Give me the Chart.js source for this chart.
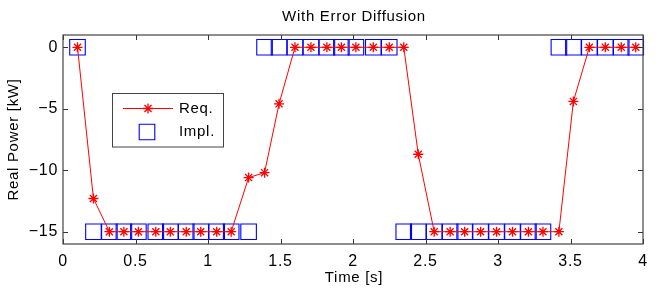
<!DOCTYPE html>
<html>
<head>
<meta charset="utf-8">
<script src="https://cdn.jsdelivr.net/npm/chart.js@4"></script>
<style>
  html, body { margin: 0; padding: 0; background: #fff; }
  canvas { display: block; }
</style>
</head>
<body>
<canvas id="chart" width="664" height="288"></canvas>
<script>
// sample times [s]
const time = [0.10, 0.21, 0.32, 0.42, 0.52, 0.64, 0.74, 0.85, 0.95, 1.06,
  1.16, 1.28, 1.39, 1.49, 1.60, 1.71, 1.82, 1.92, 2.02, 2.14,
  2.25, 2.35, 2.45, 2.56, 2.67, 2.77, 2.88, 2.99, 3.10, 3.21,
  3.31, 3.42, 3.52, 3.63, 3.74, 3.85, 3.95];

// requested power [kW]
const req = [0, -12.3, -15, -15, -15, -15, -15, -15, -15, -15,
  -15, -10.6, -10.2, -4.6, 0, 0, 0, 0, 0, 0,
  0, 0, -8.7, -15, -15, -15, -15, -15, -15, -15,
  -15, -15, -4.4, 0, 0, 0, 0];

// implemented power [kW]
const impl = [0, -15, -15, -15, -15, -15, -15, -15, -15, -15,
  -15, -15, 0, 0, 0, 0, 0, 0, 0, 0,
  0, -15, -15, -15, -15, -15, -15, -15, -15, -15,
  -15, 0, 0, 0, 0, 0, 0];

const xTicks = [0, 0.5, 1, 1.5, 2, 2.5, 3, 3.5, 4];
const yTicks = [-15, -10, -5, 0];

const FONT = "'Liberation Sans', Arial, Helvetica, sans-serif";
const SPACING = "0.7px";

// letter spacing so Liberation looks like the wider MATLAB Helvetica
const spacing = {
  id: "spacing",
  beforeDraw(chart) { chart.ctx.letterSpacing = SPACING; }
};

// box, inward ticks, titles and legend, MATLAB style
const decor = {
  id: "decor",
  afterDraw(chart) {
    const ctx = chart.ctx;
    const a = chart.chartArea;
    const xs = chart.scales.x, ys = chart.scales.y;
    ctx.save();
    ctx.strokeStyle = "#333";
    ctx.lineWidth = 1;
    ctx.beginPath();
    xTicks.forEach(v => {
      const px = Math.round(xs.getPixelForValue(v)) + 0.5;
      ctx.moveTo(px, a.bottom); ctx.lineTo(px, a.bottom - 5);
      ctx.moveTo(px, a.top); ctx.lineTo(px, a.top + 5);
    });
    yTicks.forEach(v => {
      const py = Math.round(ys.getPixelForValue(v)) + 0.5;
      ctx.moveTo(a.left, py); ctx.lineTo(a.left + 5, py);
      ctx.moveTo(a.right, py); ctx.lineTo(a.right - 5, py);
    });
    ctx.stroke();
    ctx.strokeStyle = "#444";
    ctx.lineWidth = 1.2;
    ctx.strokeRect(a.left, a.top, a.right - a.left, a.bottom - a.top);

    // texts
    ctx.fillStyle = "#000";
    ctx.letterSpacing = SPACING;
    ctx.textAlign = "center";
    ctx.textBaseline = "middle";
    ctx.font = "15px " + FONT;
    ctx.fillText("With Error Diffusion", (a.left + a.right) / 2 + 1, 17);
    ctx.fillText("Time [s]", (a.left + a.right) / 2 + 1, 278);
    ctx.save();
    ctx.translate(14, (a.top + a.bottom) / 2);
    ctx.rotate(-Math.PI / 2);
    ctx.fillText("Real Power [kW]", 0, 0);
    ctx.restore();

    // legend
    const lx = 112.5, ly = 93.5, lw = 111, lh = 53.5;
    ctx.fillStyle = "#fff";
    ctx.fillRect(lx, ly, lw, lh);
    ctx.strokeStyle = "#444";
    ctx.lineWidth = 1;
    ctx.strokeRect(lx, ly, lw, lh);
    const d0 = chart.data.datasets[0], d1 = chart.data.datasets[1];
    ctx.strokeStyle = d0.borderColor;
    ctx.beginPath();
    ctx.moveTo(123, 108.5); ctx.lineTo(173, 108.5);
    ctx.stroke();
    ctx.lineWidth = d0.pointBorderWidth;
    Chart.helpers.drawPoint(ctx, {
      pointStyle: d0.pointStyle, radius: d0.pointRadius,
      borderWidth: d0.pointBorderWidth, rotation: 0
    }, 148, 108.5);
    ctx.strokeStyle = d1.pointBorderColor;
    ctx.lineWidth = d1.pointBorderWidth;
    Chart.helpers.drawPoint(ctx, {
      pointStyle: d1.pointStyle, radius: d1.pointRadius,
      borderWidth: d1.pointBorderWidth, rotation: 0
    }, 147, 132);
    ctx.fillStyle = "#000";
    ctx.textAlign = "left";
    ctx.font = "15px " + FONT;
    ctx.fillText(d0.label, 179, 108.5);
    ctx.fillText(d1.label, 179, 132);
    ctx.restore();
  }
};

new Chart(document.getElementById("chart"), {
  type: "scatter",
  data: {
    datasets: [
      {
        label: "Req.",
        data: time.map((t, i) => ({ x: t, y: req[i] })),
        showLine: true,
        borderColor: "#ff0000",
        borderWidth: 1,
        pointStyle: "star",
        pointRadius: 5,
        pointBorderColor: "#ff0000",
        pointBorderWidth: 1.3,
        pointBackgroundColor: "#ff0000",
        tension: 0,
        clip: false
      },
      {
        label: "Impl.",
        data: time.map((t, i) => ({ x: t, y: impl[i] })),
        showLine: false,
        pointStyle: "rect",
        pointRadius: 11,
        pointBorderColor: "#0000ff",
        pointBorderWidth: 1.1,
        pointBackgroundColor: "rgba(0,0,0,0)",
        clip: false
      }
    ]
  },
  options: {
    responsive: false,
    animation: false,
    layout: { padding: { top: 35, right: 21, left: 0, bottom: 0 } },
    plugins: {
      legend: { display: false },
      title: { display: false },
      tooltip: { enabled: false }
    },
    scales: {
      x: {
        type: "linear",
        min: 0, max: 4,
        afterBuildTicks: s => { s.ticks = xTicks.map(v => ({ value: v })); },
        afterFit: s => { s.height = 44; },
        grid: { display: false, drawTicks: false },
        border: { display: false },
        ticks: {
          padding: 8,
          color: "#000",
          maxRotation: 0,
          font: { family: FONT, size: 16 },
          callback: v => String(v)
        }
      },
      y: {
        type: "linear",
        min: -16, max: 1,
        afterBuildTicks: s => { s.ticks = yTicks.map(v => ({ value: v })); },
        afterFit: s => { s.width = 63; },
        grid: { display: false, drawTicks: false },
        border: { display: false },
        ticks: {
          padding: 5,
          color: "#000",
          font: { family: FONT, size: 16 },
          callback: v => (v < 0 ? "\u2212" + Math.abs(v) : String(v))
        }
      }
    }
  },
  plugins: [spacing, decor]
});
</script>
</body>
</html>
